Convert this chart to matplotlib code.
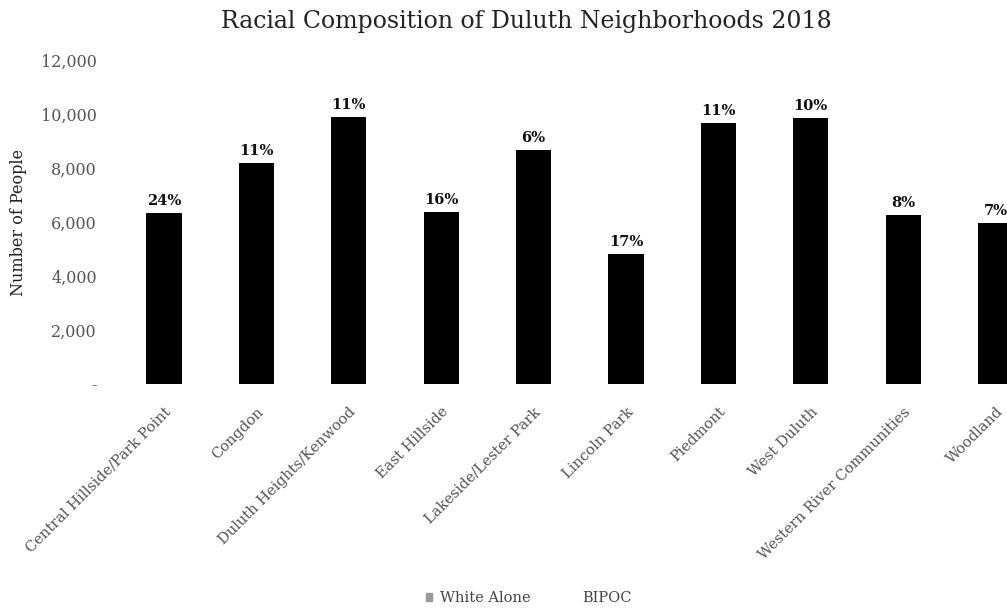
import matplotlib
matplotlib.use("Agg")
import matplotlib.pyplot as plt
import matplotlib.ticker as mtick
import numpy as np

neighborhoods = ["Central Hillside/Park Point", "Congdon", "Duluth Heights/Kenwood",
                 "East Hillside", "Lakeside/Lester Park", "Lincoln Park", "Piedmont",
                 "West Duluth", "Western River Communities", "Woodland"]
white_alone = [4810, 7290, 8810, 5350, 8150, 3990, 8610, 8865, 5760, 5540]
bipoc = [1520, 900, 1090, 1020, 520, 820, 1060, 985, 500, 420]
bipoc_pct = ["24%", "11%", "11%", "16%", "6%", "17%", "11%", "10%", "8%", "7%"]
y_ticks = [0, 2000, 4000, 6000, 8000, 10000, 12000]

plt.rcParams['font.family'] = ['DejaVu Serif']

fig = plt.figure(figsize=(10.07, 6.09), dpi=100)
ax = fig.add_axes([0.117, 0.3695, 0.9176, 0.5315])

x = np.arange(len(neighborhoods))
w = 0.38
ax.bar(x, white_alone, w, color="#000000", label="White Alone")
tops = ax.bar(x, bipoc, w, bottom=white_alone, color="#000000", label="BIPOC")

for i, rect in enumerate(tops):
    top = rect.get_y() + rect.get_height()
    ax.text(rect.get_x() + rect.get_width() / 2, top + 200, bipoc_pct[i],
            ha="center", va="bottom", fontsize=10.5, fontweight="bold", color="#111111")

ax.set_xlim(-0.5, len(neighborhoods) - 0.5)
ax.set_ylim(0, 12000)
ax.set_yticks(y_ticks)
ax.yaxis.set_major_formatter(mtick.FuncFormatter(lambda v, p: "-" if v == 0 else "{:,.0f}".format(v)))
ax.set_xticks(x)
ax.set_xticklabels(neighborhoods, rotation=45, ha="right", rotation_mode="anchor",
                   fontsize=10.5, color="#555555")
for lab in ax.get_yticklabels():
    lab.set_fontsize(11.5)
    lab.set_color("#555555")
ax.tick_params(length=0, pad=15, axis="y")
ax.tick_params(length=0, pad=15, axis="x")
for s in ax.spines.values():
    s.set_visible(False)

ax.set_ylabel("Number of People", fontsize=11.5, color="#222222", labelpad=10)
fig.text(0.523, 0.964, "Racial Composition of Duluth Neighborhoods 2018", ha="center", va="center",
         fontsize=17, color="#222222")

leg = fig.legend(loc="center", bbox_to_anchor=(0.525, 0.018), ncol=2, frameon=False,
                 handlelength=0.45, handleheight=0.45, handletextpad=0.5, columnspacing=2.6,
                 labelcolor="#444444", prop={"size": 10.5})
leg.legend_handles[0].set_color("#999999")
leg.legend_handles[1].set_color("#ffffff")

fig.savefig("out.png", dpi=100)
